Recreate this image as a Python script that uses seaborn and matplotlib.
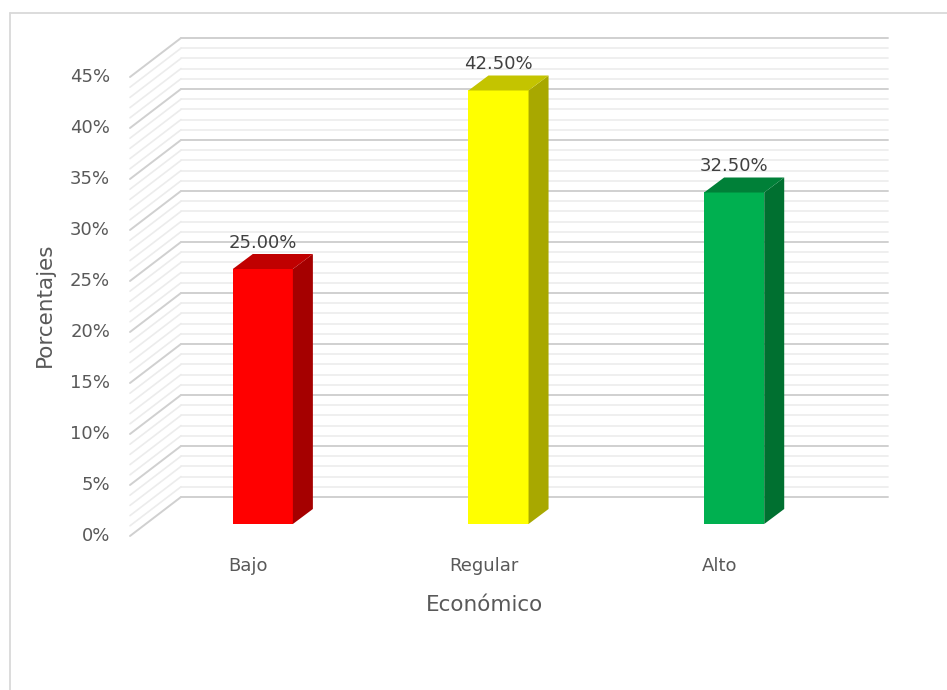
import numpy as np
import pandas as pd
import matplotlib
matplotlib.use("Agg")
import matplotlib.pyplot as plt
import seaborn as sns
from matplotlib.patches import Polygon

categorias = ["Bajo", "Regular", "Alto"]
porcentajes = [25.00, 42.50, 32.50]
etiquetas = ["25.00%", "42.50%", "32.50%"]
ticks_y = [0, 5, 10, 15, 20, 25, 30, 35, 40, 45]
ticks_y_txt = ["0%", "5%", "10%", "15%", "20%", "25%", "30%", "35%", "40%", "45%"]

frente = ["#FF0000", "#FFFF00", "#00B050"]
lado = ["#A50000", "#A8A800", "#007030"]
tapa = ["#C00000", "#C4C400", "#008038"]

sns.set_theme(style="white")
plt.rcParams["font.family"] = ["DejaVu Sans"]

fig = plt.figure(figsize=(9.47, 6.9), dpi=100)
W, H = 947, 690
# bar plane: x 145..852 px, y 524 (0%) .. 65 (45%)
ax = fig.add_axes([145 / W, (H - 524) / H, 707 / W, 459 / H])
ax.set_xlim(-0.5, 2.5)
ax.set_ylim(0, 45)

px_x = 3 / 707
px_y = 45 / 459
back = (36 * px_x, 27 * px_y)
front = (-15 * px_x, -12 * px_y)
prof = (20 * px_x, 15 * px_y)

# back wall and left wall gridlines
for v in range(0, 46):
    col = "#d0d0d0" if v % 5 == 0 else "#ececec"
    lw = 1.4 if v % 5 == 0 else 1.2
    ax.plot([-0.5 + back[0], 2.5 + back[0]], [v + back[1], v + back[1]],
            color=col, lw=lw, clip_on=False, zorder=0)
    ax.plot([-0.5 + front[0], -0.5 + back[0]], [v + front[1], v + back[1]],
            color=col, lw=lw, clip_on=False, zorder=0)

df = pd.DataFrame({"cat": categorias, "val": porcentajes})
sns.barplot(data=df, x="cat", y="val", hue="cat", palette=frente,
            width=0.255, legend=False, ax=ax, zorder=3, saturation=1, linewidth=0)
ax.set_xlim(-0.5, 2.5)
ax.set_ylim(0, 45)

for i, p in enumerate(ax.patches):
    x0, y0 = p.get_x(), p.get_y()
    x1, y1 = x0 + p.get_width(), y0 + p.get_height()
    dx, dy = prof
    ax.add_patch(Polygon([(x1, y0), (x1 + dx, y0 + dy), (x1 + dx, y1 + dy), (x1, y1)],
                         closed=True, facecolor=lado[i], edgecolor="none", zorder=3, clip_on=False))
    ax.add_patch(Polygon([(x0, y1), (x1, y1), (x1 + dx, y1 + dy), (x0 + dx, y1 + dy)],
                         closed=True, facecolor=tapa[i], edgecolor="none", zorder=3, clip_on=False))
    ax.text(x0 + p.get_width() / 2, y1 + dy + 0.2, etiquetas[i], ha="center", va="bottom",
            fontsize=13, color="#404040", zorder=4)

for s in ax.spines.values():
    s.set_visible(False)
ax.set_facecolor("none")
ax.tick_params(length=0)

# axis tick labels on the front wall
ax.set_yticks(ticks_y)
ax.set_yticklabels([])
for v, t in zip(ticks_y, ticks_y_txt):
    ax.text(-0.5 + front[0] - 20 * px_x, v + front[1], t, ha="right", va="center",
            fontsize=13, color="#595959", clip_on=False)
ax.set_xticks(range(3))
ax.set_xticklabels([])
for i, c in enumerate(categorias):
    ax.text(i + front[0], -42 * px_y, c, ha="center", va="center",
            fontsize=13, color="#595959", clip_on=False)

ax.set_xlabel("")
ax.set_ylabel("")
fig.text(484 / W, 1 - 605 / H, "Económico", ha="center", va="center", fontsize=15.5, color="#595959")
fig.text(45 / W, 1 - 305 / H, "Porcentajes", ha="center", va="center", rotation=90,
         fontsize=15.5, color="#595959")

# chart border (top and left)
fig.add_artist(plt.Line2D([9.5 / W, 1], [1 - 12.5 / H, 1 - 12.5 / H], color="#d9d9d9", lw=1.3))
fig.add_artist(plt.Line2D([9.5 / W, 9.5 / W], [0, 1 - 12.5 / H], color="#d9d9d9", lw=1.3))

fig.savefig("out.png", dpi=100)
